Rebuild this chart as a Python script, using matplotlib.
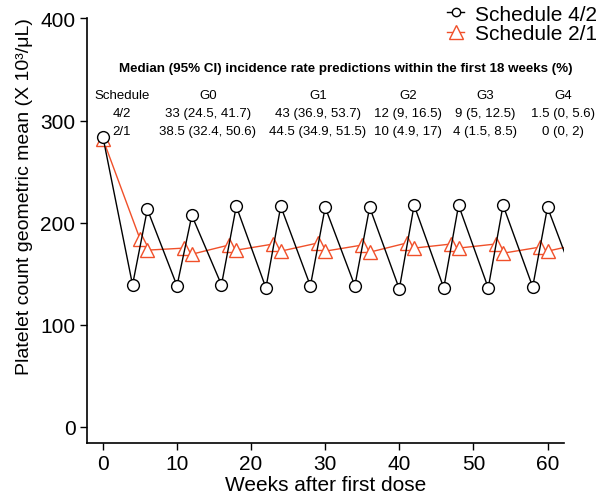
import matplotlib
matplotlib.use('Agg')
import matplotlib.pyplot as plt
from matplotlib.lines import Line2D

plt.rcParams['font.family'] = ['Liberation Sans', 'DejaVu Sans']

RED = '#F0502A'

# schedule 4/2 (black circles)
weeks_42 = [0, 4, 6, 10, 12, 16, 18, 22, 24, 28, 30, 34, 36, 40, 42, 46, 48, 52, 54, 58, 60, 64]
plt_42 = [284, 139, 213, 138, 207, 139, 216, 136, 216, 138, 215, 138, 215, 135, 217, 136, 217, 136, 217, 137, 215, 138]

# schedule 2/1 (red triangles)
weeks_21 = [0, 5, 6, 11, 12, 17, 18, 23, 24, 29, 30, 35, 36, 41, 42, 47, 48, 53, 54, 59, 60, 65]
plt_21 = [282, 184, 173, 175, 169, 178, 173, 179, 172, 180, 172, 178, 171, 180, 175, 179, 175, 179, 170, 176, 172, 180]

x_ticks = [0, 10, 20, 30, 40, 50, 60]
y_ticks = [0, 100, 200, 300, 400]

table_title = 'Median (95% CI) incidence rate predictions within the first 18 weeks (%)'
table_header = ['Schedule', 'G0', 'G1', 'G2', 'G3', 'G4']
table_rows = [
    ['4/2', '33 (24.5, 41.7)', '43 (36.9, 53.7)', '12 (9, 16.5)', '9 (5, 12.5)', '1.5 (0, 5.6)'],
    ['2/1', '38.5 (32.4, 50.6)', '44.5 (34.9, 51.5)', '10 (4.9, 17)', '4 (1.5, 8.5)', '0 (0, 2)'],
]

fig = plt.figure(figsize=(6.09, 5.02), dpi=100)
ax = fig.add_axes([0.1422, 0.1155, 0.7836, 0.8457])

ax.plot(weeks_21, plt_21, color=RED, lw=1.0, marker='^', ms=9.5,
        mfc='white', mec=RED, mew=1.0, zorder=2)
ax.plot(weeks_42, plt_42, color='black', lw=1.0, marker='o', ms=8.5,
        mfc='white', mec='black', mew=1.0, zorder=3)

ax.set_xlim(-2.2, 62.2)
ax.set_ylim(-16, 400)
ax.set_xticks(x_ticks)
ax.set_yticks(y_ticks)
for s in ['top', 'right']:
    ax.spines[s].set_visible(False)
for s in ['left', 'bottom']:
    ax.spines[s].set_linewidth(1.2)
ax.tick_params(labelsize=15, length=5, width=1.0, pad=3)

ax.set_xlabel('Weeks after first dose', fontsize=15, labelpad=1)
ax.set_ylabel('Platelet count geometric mean (X 10³/μL)', fontsize=14)
ax.yaxis.set_label_coords(-0.112, 0.5825)

# legend
handles = [
    Line2D([], [], color='black', lw=1.0, marker='o', ms=6, mfc='white', mec='black'),
    Line2D([], [], color=RED, lw=1.0, marker='^', ms=9.5, mfc='white', mec=RED),
]
fig.legend(handles, ['Schedule 4/2', 'Schedule 2/1'], loc='upper right',
           bbox_to_anchor=(1.005, 1.018), frameon=False, fontsize=15,
           handlelength=0.8, handletextpad=0.55, labelspacing=0.02, borderpad=0.2)

# table of incidence rates
fig.text(0.568, 0.8625, table_title, fontsize=9.6, fontweight='bold', ha='center', va='center')
col_x = [0.2003, 0.3415, 0.5222, 0.67, 0.7964, 0.9245]
row_y = [0.8088, 0.7729, 0.7371]
for cx, txt in zip(col_x, table_header):
    fig.text(cx, row_y[0], txt, fontsize=9.5, ha='center', va='center')
for ry, row in zip(row_y[1:], table_rows):
    for cx, txt in zip(col_x, row):
        fig.text(cx, ry, txt, fontsize=9.5, ha='center', va='center')

fig.savefig('out.png', dpi=100)
